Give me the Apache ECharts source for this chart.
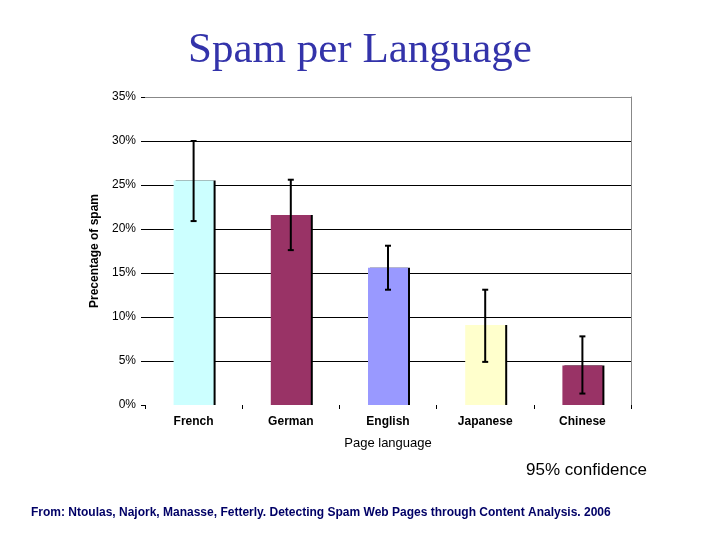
<!DOCTYPE html>
<html>
<head>
<meta charset="utf-8">
<script src="https://cdn.jsdelivr.net/npm/echarts@6/dist/echarts.min.js"></script>
<style>
    body { margin: 0; background: #fff; }
    #chart { width: 720px; height: 540px; }
</style>
</head>
<body>
<div id="chart"></div>
<script>
const languages = ['French', 'German', 'English', 'Japanese', 'Chinese']
const spamPercent = [25.5, 21.6, 15.6, 9.1, 4.5]
const errLow = [20.9, 17.6, 13.1, 4.9, 1.3]
const errHigh = [30.0, 25.6, 18.1, 13.1, 7.8]
const barColors = ['#ccffff', '#993366', '#9999ff', '#ffffcc', '#993366']

let chart = echarts.init(document.getElementById('chart'))

const errorBars = languages.map((name, i) => [i, errLow[i], errHigh[i]])

let options = {
    animation: false,
    title: {
        text: 'Spam per Language',
        left: 'center',
        top: 24,
        textStyle: {
            fontFamily: 'Liberation Serif',
            fontWeight: 'normal',
            fontSize: 43,
            color: '#3333aa'
        }
    },
    grid: {left: 145, right: 89, top: 97, bottom: 135},
    xAxis: {
        type: 'category',
        data: languages,
        name: 'Page language',
        nameLocation: 'middle',
        nameGap: 32,
        nameTextStyle: {fontFamily: 'Liberation Sans', fontSize: 13, color: '#000'},
        axisLine: {show: false},
        axisTick: {show: true, length: 4, lineStyle: {color: '#000'}},
        axisLabel: {fontFamily: 'Liberation Sans', fontWeight: 'bold', fontSize: 12, color: '#000', margin: 11}
    },
    yAxis: [{
        type: 'value',
        min: 0,
        max: 35,
        interval: 5,
        name: 'Precentage of spam',
        nameLocation: 'middle',
        nameGap: 33,
        nameTextStyle: {fontFamily: 'Liberation Sans', fontWeight: 'bold', fontSize: 12, color: '#000'},
        axisLine: {show: false},
        axisTick: {show: true, length: 4, lineStyle: {color: '#000'}},
        axisLabel: {formatter: '{value}%', fontFamily: 'Liberation Sans', fontSize: 12, color: '#000', margin: 9},
        splitLine: {
            lineStyle: {
                color: ['rgba(0,0,0,0)', '#000', '#000', '#000', '#000', '#000', '#000', '#888'],
                width: 1
            }
        }
    }, {
        type: 'value',
        min: 0,
        max: 35,
        interval: 5,
        position: 'right',
        axisLine: {show: true, lineStyle: {color: '#888'}},
        axisTick: {show: false},
        axisLabel: {show: false},
        splitLine: {show: false}
    }],
    series: [{
        type: 'bar',
        barWidth: 40,
        data: spamPercent.map((v, i) => ({
            value: v,
            itemStyle: {color: barColors[i]}
        })),
        itemStyle: {
            shadowColor: '#000',
            shadowOffsetX: 2,
            shadowBlur: 0
        }
    }, {
        type: 'custom',
        data: errorBars,
        z: 5,
        renderItem: (params, api) => {
            const top = api.coord([api.value(0), api.value(2)])
            const bottom = api.coord([api.value(0), api.value(1)])
            const style = {stroke: '#000', lineWidth: 2}
            return {
                type: 'group',
                children: [
                    {type: 'line', shape: {x1: top[0], y1: top[1], x2: bottom[0], y2: bottom[1]}, style: style},
                    {type: 'line', shape: {x1: top[0] - 3, y1: top[1], x2: top[0] + 3, y2: top[1]}, style: style},
                    {type: 'line', shape: {x1: bottom[0] - 3, y1: bottom[1], x2: bottom[0] + 3, y2: bottom[1]}, style: style}
                ]
            }
        }
    }],
    graphic: [
        {
            type: 'text',
            left: 526,
            top: 462,
            style: {text: '95% confidence', font: '17px "Liberation Sans"', fill: '#000'}
        },
        {
            type: 'text',
            left: 31,
            top: 507,
            style: {
                text: 'From: Ntoulas, Najork, Manasse, Fetterly. Detecting Spam Web Pages through Content Analysis. 2006',
                font: 'bold 12px "Liberation Sans"',
                fill: '#000066'
            }
        }
    ]
}
chart.setOption(options)
</script>
</body>
</html>
